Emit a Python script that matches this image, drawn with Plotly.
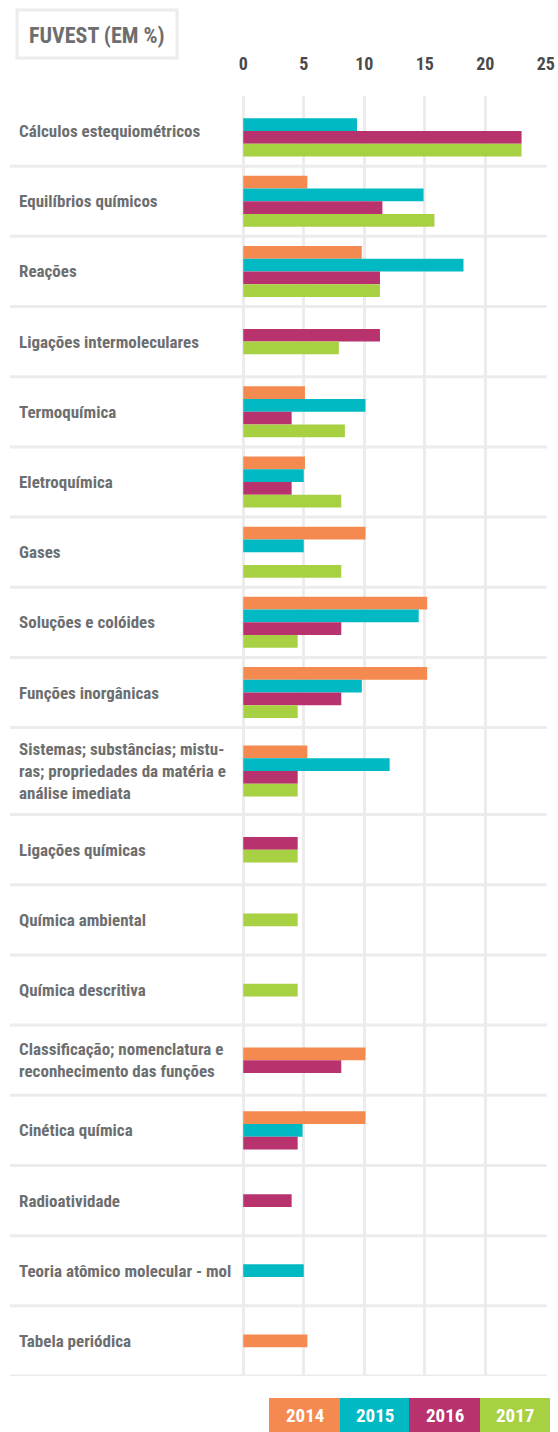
import plotly.graph_objects as go

# ---------------- data ----------------
categories = [
    "Cálculos estequiométricos",
    "Equilíbrios químicos",
    "Reações",
    "Ligações intermoleculares",
    "Termoquímica",
    "Eletroquímica",
    "Gases",
    "Soluções e colóides",
    "Funções inorgânicas",
    "Sistemas; substâncias; mistu-<br>ras; propriedades da matéria e<br>análise imediata",
    "Ligações químicas",
    "Química ambiental",
    "Química descritiva",
    "Classificação; nomenclatura e<br>reconhecimento das funções",
    "Cinética química",
    "Radioatividade",
    "Teoria atômico molecular - mol",
    "Tabela periódica",
]
years = ["2014", "2015", "2016", "2017"]
v2014 = [0, 5.3, 9.8, None, 5.1, 5.1, 10.1, 15.2, 15.2, 5.3, None, None, None, 10.1, 10.1, None, None, 5.3]
v2015 = [9.4, 14.9, 18.2, None, 10.1, 5.0, 5.0, 14.5, 9.8, 12.1, None, None, None, None, 4.9, None, 5.0, None]
v2016 = [23.0, 11.5, 11.3, 11.3, 4.0, 4.0, 0, 8.1, 8.1, 4.5, 4.5, None, None, 8.1, 4.5, 4.0, None, None]
v2017 = [23.0, 15.8, 11.3, 7.9, 8.4, 8.1, 8.1, 4.5, 4.5, 4.5, 4.5, 4.5, 4.5, None, None, None, None, None]
x_ticks = [0, 5, 10, 15, 20, 25]
title_text = "FUVEST (EM %)"

# ---------------- style ----------------
series = [v2014, v2015, v2016, v2017]
colors = ["#f58a51", "#00b9c2", "#b8336e", "#a8d043"]
FONT = "Roboto Condensed, Liberation Sans Narrow, DejaVu Sans Condensed, sans-serif"
GRID = "#ececec"
LABEL_COLOR = "#6d6e70"

W, H = 558, 1432
L, R, T, B = 243, 546, 96, 1376

row_heights = [87 if i == 9 else 70.2 for i in range(len(categories))]
total_h = sum(row_heights)
bounds = [0]
for h in row_heights:
    bounds.append(bounds[-1] + h)
centers = [(bounds[i] + bounds[i + 1]) / 2 for i in range(len(categories))]
bar_w = 12.75


def px_x(px):
    """page pixel -> paper x"""
    return (px - L) / (R - L)


def px_y(py):
    """page pixel -> paper y"""
    return (B - py) / (B - T)


fig = go.Figure()

for j, (yr, vals, col) in enumerate(zip(years, series, colors)):
    xs, ys, offs = [], [], []
    for i in range(len(categories)):
        present = [k for k in range(4) if series[k][i] is not None]
        if vals[i] is None:
            continue
        n = len(present)
        idx = present.index(j)
        xs.append(vals[i])
        ys.append(centers[i])
        offs.append(-n * bar_w / 2 + idx * bar_w)
    fig.add_trace(go.Bar(
        x=xs, y=ys, orientation="h", name=yr,
        width=bar_w, offset=offs,
        marker=dict(color=col, line=dict(width=0)),
        hoverinfo="x+name",
    ))

shapes = []
# row separators
for b in bounds[1:]:
    shapes.append(dict(type="line", xref="paper", yref="y",
                       x0=px_x(10), x1=px_x(547), y0=b, y1=b,
                       line=dict(color=GRID, width=3), layer="below"))
# title box
shapes.append(dict(type="rect", xref="paper", yref="paper",
                   x0=px_x(17), x1=px_x(177), y0=px_y(10), y1=px_y(58),
                   line=dict(color=GRID, width=3), fillcolor="white"))

annotations = []
for i, c in enumerate(categories):
    annotations.append(dict(
        text=c, xref="paper", yref="y", x=px_x(17), y=centers[i],
        xanchor="left", yanchor="middle", align="left", showarrow=False,
        font=dict(family=FONT, size=17, color=LABEL_COLOR, weight="bold"),
    ))
annotations.append(dict(
    text=title_text, xref="paper", yref="paper", x=px_x(97), y=px_y(35),
    xanchor="center", yanchor="middle", showarrow=False,
    font=dict(family=FONT, size=22, color="#6d6e70", weight="bold"),
))

# legend boxes
leg_edges = [269, 340, 409, 480, 550]
for k, yr in enumerate(years):
    shapes.append(dict(type="rect", xref="paper", yref="paper",
                       x0=px_x(leg_edges[k]), x1=px_x(leg_edges[k + 1]),
                       y0=px_y(1398), y1=px_y(1432),
                       line=dict(width=0), fillcolor=colors[k]))
    annotations.append(dict(
        text=yr, xref="paper", yref="paper",
        x=px_x((leg_edges[k] + leg_edges[k + 1]) / 2), y=px_y(1415),
        xanchor="center", yanchor="middle", showarrow=False,
        font=dict(family=FONT, size=19, color="white", weight="bold"),
    ))

fig.update_layout(
    width=W, height=H, autosize=False,
    margin=dict(l=L, r=W - R, t=T, b=H - B, pad=0, autoexpand=False),
    paper_bgcolor="white", plot_bgcolor="white",
    barmode="overlay", showlegend=False,
    shapes=shapes, annotations=annotations,
    xaxis=dict(
        range=[-0.02, 25.02], side="top", tickvals=x_ticks,
        ticktext=[str(t) for t in x_ticks], automargin=False,
        showgrid=True, gridcolor=GRID, gridwidth=3,
        zeroline=True, zerolinecolor=GRID, zerolinewidth=3,
        showline=False, ticks="", ticklabelstandoff=21,
        tickfont=dict(family=FONT, size=18, color="#4a4a4a", weight="bold"),
        fixedrange=True,
    ),
    yaxis=dict(
        range=[total_h, 0], showticklabels=False, showgrid=False,
        automargin=False,
        zeroline=False, showline=False, ticks="", fixedrange=True,
    ),
)

fig.write_html(
    "out.html",
    config={"displayModeBar": False, "responsive": False},
    post_script="document.body.style.margin='0';document.body.style.overflow='hidden';",
)
